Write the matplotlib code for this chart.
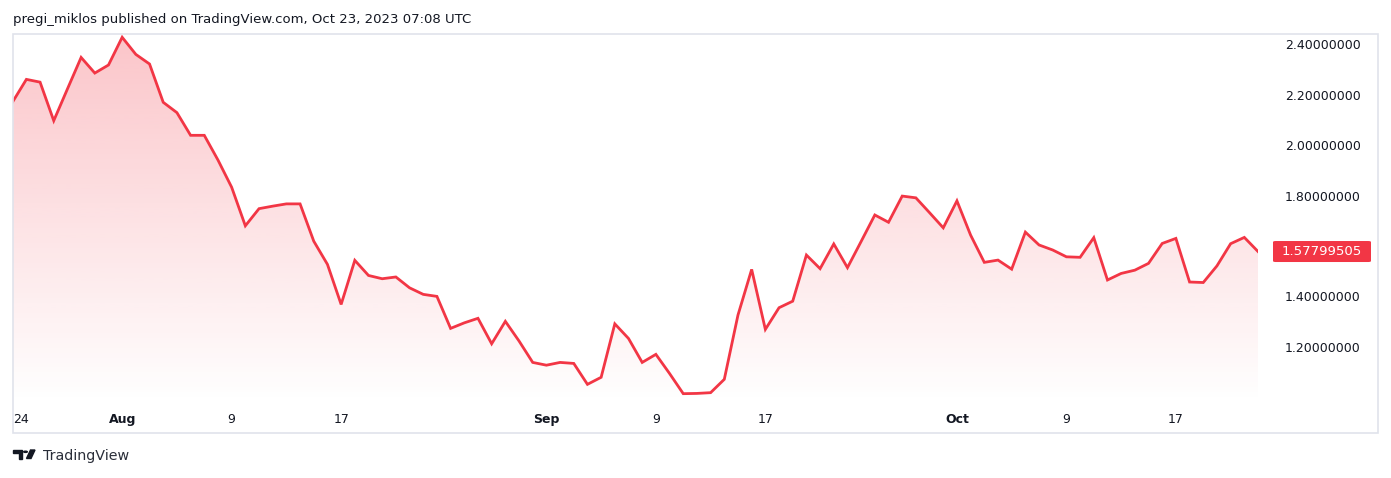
import matplotlib.pyplot as plt
import matplotlib.dates as mdates
from matplotlib.patches import Polygon, Rectangle, Circle, FancyBboxPatch
import numpy as np
import pandas as pd

# daily close, Jul 24 .. Oct 23 2023
dates = pd.date_range("2023-07-24", "2023-10-23", freq="D")
close = [
    2.172, 2.261, 2.250, 2.097, 2.223, 2.348, 2.286, 2.318,              # Jul 24-31
    2.428, 2.360, 2.322, 2.170, 2.129, 2.039, 2.039, 1.941, 1.833, 1.680,  # Aug 1-10
    1.748, 1.758, 1.767, 1.767, 1.619, 1.527, 1.368, 1.543, 1.483, 1.470,  # Aug 11-20
    1.477, 1.434, 1.408, 1.400, 1.273, 1.295, 1.313, 1.212, 1.301, 1.223,  # Aug 21-30
    1.138,                                                                # Aug 31
    1.127, 1.138, 1.134, 1.051, 1.079, 1.291, 1.233, 1.138, 1.170, 1.094,  # Sep 1-10
    1.014, 1.015, 1.018, 1.071, 1.326, 1.507, 1.269, 1.355, 1.381, 1.564,  # Sep 11-20
    1.510, 1.608, 1.514, 1.618, 1.723, 1.694, 1.798, 1.791, 1.732, 1.672,  # Sep 21-30
    1.779, 1.643, 1.535, 1.544, 1.508, 1.655, 1.604, 1.584, 1.557, 1.555,  # Oct 1-10
    1.633, 1.465, 1.491, 1.504, 1.531, 1.610, 1.630, 1.457, 1.455, 1.521,  # Oct 11-20
    1.609, 1.634, 1.57799505,                                             # Oct 21-23
]
last_price = "1.57799505"

y_ticks = [1.2, 1.4, 1.6, 1.8, 2.0, 2.2, 2.4]
x_tick_dates = ["2023-07-24", "2023-08-01", "2023-08-09", "2023-08-17", "2023-09-01",
                "2023-09-09", "2023-09-17", "2023-10-01", "2023-10-09", "2023-10-17"]
x_tick_labels = ["24", "Aug", "9", "17", "Sep", "9", "17", "Oct", "9", "17"]
month_labels = {"Aug", "Sep", "Oct"}

title = "pregi_miklos published on TradingView.com, Oct 23, 2023 07:08 UTC"

RED = "#F23645"
TXT = "#131722"
BORDER = "#E0E3EB"

W, H = 1391, 478
fig = plt.figure(figsize=(W / 100, H / 100), dpi=100)


def fx(px):
    return px / W


def fy(py):
    return 1 - py / H


# plot pane in pixel coordinates
left, right, top, bottom = 12.7, 1258, 34, 403
ax = fig.add_axes([fx(left), fy(bottom), fx(right - left), fy(top) - fy(bottom)])
ymin, ymax = 0.977, 2.441
ax.set_ylim(ymin, ymax)
xd = mdates.date2num(dates)
ax.set_xlim(xd[0], xd[-1])

y = np.array(close)
ax.plot(xd, y, color=RED, lw=2, zorder=3, solid_joinstyle="miter")

# gradient area fill
verts = np.vstack([np.column_stack([xd, y]), [[xd[-1], ymin], [xd[0], ymin]]])
clip = Polygon(verts, closed=True, facecolor="none", edgecolor="none")
ax.add_patch(clip)
grad = np.zeros((256, 1, 4))
grad[:, 0, 0] = 242 / 255
grad[:, 0, 1] = 54 / 255
grad[:, 0, 2] = 69 / 255
grad[:, 0, 3] = np.linspace(0.29, 0.0, 256)
im = ax.imshow(grad, aspect="auto", extent=[xd[0], xd[-1], ymin, ymax],
               origin="upper", zorder=2, interpolation="bilinear")
im.set_clip_path(clip)

for s in ax.spines.values():
    s.set_visible(False)

ax.yaxis.tick_right()
ax.set_yticks(y_ticks)
ax.set_yticklabels([f"{v:.8f}" for v in y_ticks])
ax.tick_params(axis="y", length=0, pad=19.5, labelsize=9, labelcolor=TXT)

ax.set_xticks(mdates.date2num(pd.to_datetime(x_tick_dates)))
ax.set_xticklabels(x_tick_labels)
ax.tick_params(axis="x", length=0, pad=7, labelsize=9, labelcolor=TXT)
for lab in ax.get_xticklabels():
    if lab.get_text() in month_labels:
        lab.set_fontweight("bold")
ax.get_xticklabels()[0].set_horizontalalignment("left")

# outer frame
fig.patches.append(Rectangle((fx(12.5), fy(433)), fx(1378 - 12.5), fy(33.5) - fy(433),
                             transform=fig.transFigure, fill=False,
                             edgecolor=BORDER, lw=1.2))

# last price tag (covers most of the 1.6 label, as in the original)
frac = (close[-1] - ymin) / (ymax - ymin)
yc = fy(bottom) + frac * (fy(top) - fy(bottom))
fig.patches.append(FancyBboxPatch((fx(1273), yc - 10.5 / H), fx(98), 21 / H,
                                  boxstyle="round,pad=0,rounding_size=0.002",
                                  transform=fig.transFigure, facecolor=RED,
                                  edgecolor="none", zorder=5))
fig.text(fx(1322), yc, last_price, color="white", fontsize=9.5, ha="center",
         va="center", zorder=6)

# header
fig.text(fx(13), fy(19), title, fontsize=9.5, color=TXT, va="center", ha="left")

# TradingView logo (rough)
logo = "#131722"
fig.patches.append(Polygon([(fx(13), fy(450)), (fx(22), fy(450)), (fx(22), fy(458.5)),
                            (fx(18.5), fy(458.5)), (fx(18.5), fy(453.3)), (fx(13), fy(453.3))],
                           closed=True, transform=fig.transFigure, color=logo))
fig.patches.append(Circle((fx(25.5), fy(451.8)), 1.8 / W, transform=fig.transFigure,
                          color=logo))
fig.patches.append(Polygon([(fx(30.5), fy(450)), (fx(35), fy(450)), (fx(31), fy(458.5)),
                            (fx(26.5), fy(458.5))],
                           closed=True, transform=fig.transFigure, color=logo))
fig.text(fx(43), fy(456), "TradingView", fontsize=10.3, color="#2a2e39", va="center",
         ha="left")

fig.savefig("out.png", dpi=100, facecolor="white")
